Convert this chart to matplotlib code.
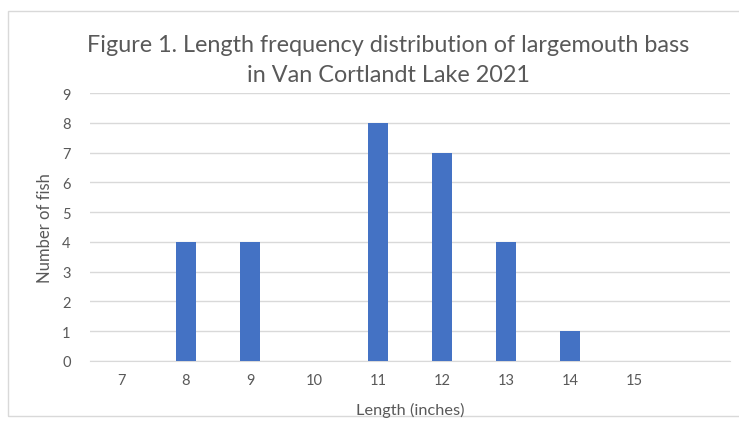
import matplotlib
matplotlib.use("Agg")
import matplotlib.pyplot as plt
from matplotlib.patches import Rectangle

# Length classes (inches); last slot has no label in the original chart
lengths = ["7", "8", "9", "10", "11", "12", "13", "14", "15", ""]
counts = [0, 4, 4, 0, 8, 7, 4, 1, 0, 0]
yticks = list(range(0, 10))

plt.rcParams["font.family"] = ["Lato", "DejaVu Sans"]
TXT = "#595959"

fig = plt.figure(figsize=(7.39, 4.31), dpi=100)
W, H = 739, 431
ax = fig.add_axes([90 / W, 1 - 362 / H, (730 - 90) / W, (362 - 94) / H])

x = list(range(len(lengths)))
ax.bar(x, counts, width=0.31, color="#4472C4", zorder=3)

ax.set_xlim(-0.5, len(lengths) - 0.5)
ax.set_ylim(0, 9)
ax.set_yticks(yticks)
ax.set_xticks(x)
ax.set_xticklabels(lengths)
ax.tick_params(axis="both", length=0, colors=TXT, labelsize=10.5)
ax.tick_params(axis="y", pad=14)
ax.tick_params(axis="x", pad=9)
ax.grid(axis="y", color="#D9D9D9", linewidth=1, zorder=0)
for s in ["top", "right", "left"]:
    ax.spines[s].set_visible(False)
ax.spines["bottom"].set_color("#D9D9D9")

fig.text(388 / W, 1 - 45 / H, "Figure 1. Length frequency distribution of largemouth bass",
         ha="center", va="center", fontsize=16.8, color=TXT)
fig.text(388 / W, 1 - 75 / H, "in Van Cortlandt Lake 2021",
         ha="center", va="center", fontsize=16.8, color=TXT)
fig.text(45 / W, 1 - 228 / H, "Number of fish", rotation=90,
         ha="center", va="center", fontsize=12, color=TXT)
fig.text(410 / W, 1 - 410 / H, "Length (inches)",
         ha="center", va="center", fontsize=11.8, color=TXT)

fig.patches.append(Rectangle((8 / W, 1 - 417 / H), 1.2, (417 - 12) / H,
                             transform=fig.transFigure, fill=False,
                             edgecolor="#D9D9D9", linewidth=1))

fig.savefig("out.png", dpi=100, facecolor="white")
